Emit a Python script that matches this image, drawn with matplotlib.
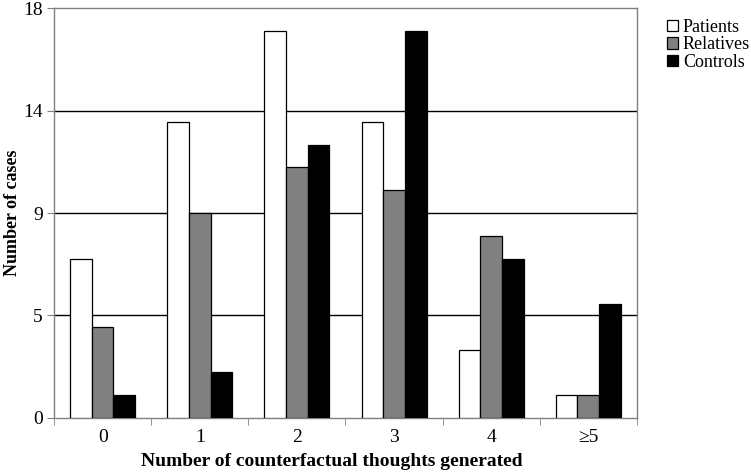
import numpy as np
import matplotlib
matplotlib.use('Agg')
import matplotlib.pyplot as plt

plt.rcParams['font.family'] = ['Liberation Serif', 'DejaVu Serif']

categories = ['0', '1', '2', '3', '4', '\u22655']
patients = [7, 13, 17, 13, 3, 1]
relatives = [4, 9, 11, 10, 8, 1]
controls = [1, 2, 12, 17, 7, 5]
ytick_vals = [0, 4.5, 9, 13.5, 18]
ytick_labels = ['0', '5', '9', '14', '18']

fig = plt.figure(figsize=(7.51, 4.76), dpi=100)
ax = fig.add_axes([0.072, 0.122, 0.776, 0.861])

x = np.arange(len(categories))
w = 0.223
ax.bar(x - w, patients, w, color='white', edgecolor='black', linewidth=0.9, label='Patients', zorder=3)
ax.bar(x, relatives, w, color='#808080', edgecolor='black', linewidth=0.9, label='Relatives', zorder=3)
ax.bar(x + w, controls, w, color='black', edgecolor='black', linewidth=0.9, label='Controls', zorder=3)

ax.set_xlim(-0.5, len(categories) - 0.5)
ax.set_ylim(0, 18)
ax.set_yticks(ytick_vals)
ax.set_yticklabels(ytick_labels, fontsize=14)
for v in ytick_vals[1:-1]:
    ax.axhline(v, color='black', linewidth=1.0, zorder=1)

ax.set_xticks(x)
ax.set_xticklabels(categories, fontsize=14)
ax.tick_params(axis='x', which='major', length=0, pad=8)
ax.set_xticks(np.arange(-0.5, len(categories)), minor=True)
ax.tick_params(axis='x', which='minor', length=5, direction='out', color='#808080')
ax.tick_params(axis='y', length=5, direction='out', color='#808080', pad=3)

for s in ax.spines.values():
    s.set_color('#808080')
    s.set_linewidth(1.0)

ax.set_xlabel('Number of counterfactual thoughts generated', fontsize=14, fontweight='bold')
ax.xaxis.set_label_coords(0.477, -0.086)
ax.set_ylabel('Number of cases', fontsize=13, fontweight='bold', labelpad=2)

ax.legend(loc='upper left', bbox_to_anchor=(1.034, 1.0), frameon=False, fontsize=13,
          handlelength=0.6, handleheight=0.6, handletextpad=0.25, labelspacing=0.02,
          borderaxespad=0.2)

fig.savefig('out.png', dpi=100, facecolor='white')
